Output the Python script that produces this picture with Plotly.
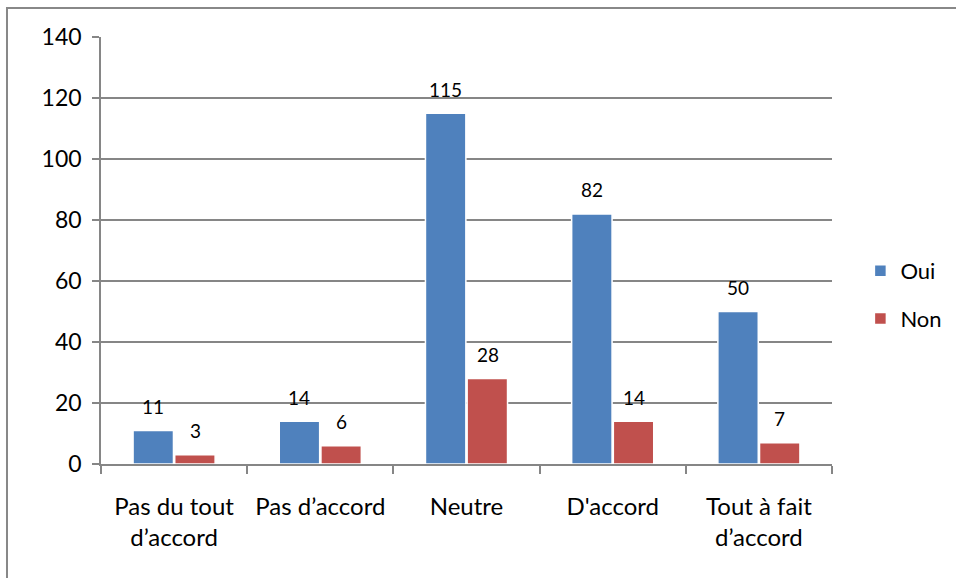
import plotly.graph_objects as go

categories = ["Pas du tout<br>d’accord", "Pas d’accord", "Neutre", "D'accord", "Tout à fait<br>d’accord"]
oui_values = [11, 14, 115, 82, 50]
non_values = [3, 6, 28, 14, 7]
series_names = ["Oui", "Non"]
y_ticks = [0, 20, 40, 60, 80, 100, 120, 140]

FONT = "Lato"
GRID = "#868686"

fig = go.Figure()
fig.add_trace(go.Bar(x=categories, y=oui_values, name=series_names[0],
                     marker=dict(color="#4F81BD", line=dict(color="white", width=1.5)),
                     legendgroup="a"))
fig.add_trace(go.Bar(x=categories, y=non_values, name=series_names[1],
                     marker=dict(color="#C0504D", line=dict(color="white", width=1.5)),
                     legendgroup="b"))

annotations = []
for vals, shift in ((oui_values, -21), (non_values, 21)):
    for c, v in zip(categories, vals):
        annotations.append(dict(x=c, y=v, xref="x", yref="y", text=str(v), showarrow=False,
                                xshift=shift, yshift=24, yanchor="middle",
                                font=dict(family=FONT, size=19, color="black")))

fig.update_layout(
    width=956, height=578,
    margin=dict(l=101, r=124, t=37, b=114),
    paper_bgcolor="white", plot_bgcolor="white",
    barmode="group", bargap=0.43, bargroupgap=0.03,
    font=dict(family=FONT, size=22, color="black"),
    annotations=annotations,
    legend=dict(xref="container", yref="container", x=0.991, xanchor="right",
                y=1 - 295 / 578, yanchor="middle",
                traceorder="grouped", tracegroupgap=16,
                font=dict(family=FONT, size=22, color="black"),
                itemwidth=30),
    showlegend=True,
    shapes=[dict(type="path", xref="paper", yref="paper",
                 path="M -0.1286,-0.3 L -0.1286,1.068 L 1.2,1.068",
                 line=dict(color="#888888", width=2))],
)
fig.update_yaxes(range=[0, 140], tickvals=y_ticks, showgrid=True, gridcolor=GRID, gridwidth=1.5,
                 showline=True, linecolor=GRID, linewidth=1.5, ticks="outside", ticklen=7,
                 tickcolor=GRID, tickwidth=1.5, zeroline=False, ticklabelstandoff=6,
                 tickfont=dict(family=FONT, size=23))
fig.update_xaxes(showline=True, linecolor=GRID, linewidth=1.5, ticks="outside", ticklen=8,
                 tickson="boundaries", tickcolor=GRID, tickwidth=1.5, ticklabelstandoff=20,
                 tickfont=dict(family=FONT, size=24))

fig.write_html("out.html", config={"displayModeBar": False},
               post_script="document.body.style.margin='0';document.body.style.overflow='hidden';")
